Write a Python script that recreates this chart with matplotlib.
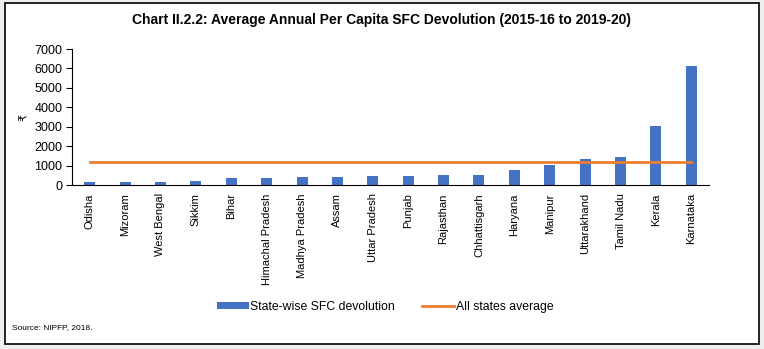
import matplotlib
matplotlib.use('Agg')
import matplotlib.pyplot as plt
from matplotlib.patches import Rectangle

plt.rcParams['font.family'] = ['Liberation Sans', 'DejaVu Sans']

states = ['Odisha', 'Mizoram', 'West Bengal', 'Sikkim', 'Bihar',
          'Himachal Pradesh', 'Madhya Pradesh', 'Assam', 'Uttar Pradesh',
          'Punjab', 'Rajasthan', 'Chhattisgarh', 'Haryana', 'Manipur',
          'Uttarakhand', 'Tamil Nadu', 'Kerala', 'Karnataka']
sfc = [140, 140, 140, 210, 360, 360, 410, 420, 440, 460, 490, 510,
       750, 1030, 1350, 1440, 3020, 6100]
avg = 1200
yticks = [0, 1000, 2000, 3000, 4000, 5000, 6000, 7000]

fig = plt.figure(figsize=(7.64, 3.49), dpi=100)
fig.patch.set_facecolor('#eeeeee')
# white panel with black frame
fig.patches.append(Rectangle((5 / 764, 1 - 344 / 349), 754 / 764, 341 / 349,
                             transform=fig.transFigure, facecolor='white',
                             edgecolor='black', linewidth=1.2, zorder=-5))

ax = fig.add_axes([72 / 764, 1 - 185 / 349, 637 / 764, 136 / 349])
ax.set_zorder(2)
x = list(range(len(states)))
bars = ax.bar(x, sfc, width=0.31, color='#4472c4', zorder=2)
line, = ax.plot(x, [avg] * len(states), color='#ed7d31', linewidth=2, zorder=3)

ax.set_xlim(-0.5, len(states) - 0.5)
ax.set_ylim(0, 7000)
ax.set_yticks(yticks)
ax.set_xticks(x)
ax.set_xticklabels(states, rotation=90, fontsize=8)
ax.tick_params(axis='x', length=0, pad=6)
ax.tick_params(axis='y', labelsize=9, length=4, direction='out', pad=3)
ax.spines['top'].set_visible(False)
ax.spines['right'].set_visible(False)
ax.set_facecolor('none')
ax.set_ylabel('₹', fontsize=8, labelpad=4)

fig.text(0.5, 1 - 20 / 349, 'Chart II.2.2: Average Annual Per Capita SFC Devolution (2015-16 to 2019-20)',
         ha='center', va='center', fontsize=10, fontweight='bold')
leg = fig.legend([bars, line], ['State-wise SFC devolution', 'All states average'],
                 loc='center', bbox_to_anchor=(385 / 764, 1 - 307 / 349), ncol=2,
                 frameon=False, fontsize=8.8, handlelength=2.6, handleheight=0.5,
                 columnspacing=2.2, handletextpad=0.15)
leg.set_zorder(3)
fig.text(12 / 764, 1 - 328 / 349, 'Source: NIPFP, 2018.', ha='left', va='center', fontsize=6)

fig.savefig('out.png', dpi=100, facecolor=fig.get_facecolor())
